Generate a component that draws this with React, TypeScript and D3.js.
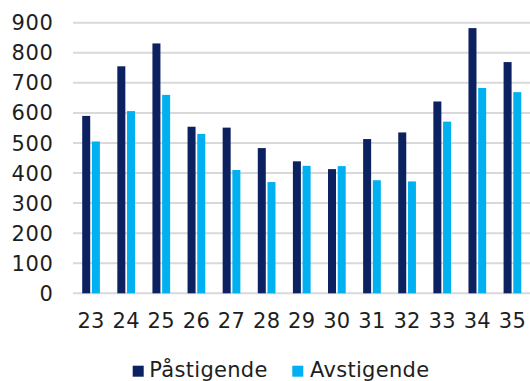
import React from "react";
import * as d3 from "d3";

const categories = ["23", "24", "25", "26", "27", "28", "29", "30", "31", "32", "33", "34", "35"];
const pastigende = [590, 755, 831, 554, 551, 483, 439, 413, 513, 535, 638, 882, 769];
const avstigende = [505, 606, 660, 530, 410, 370, 424, 423, 376, 372, 571, 683, 669];
const yTicks = [0, 100, 200, 300, 400, 500, 600, 700, 800, 900];
const seriesNames = ["Påstigende", "Avstigende"];

const W = 530;
const H = 381;
const DARK = "#0b2160";
const LIGHT = "#00b0f0";
const TEXT = "#1e1e1e";
const FONT = "'DejaVu Sans', sans-serif";

export default function App() {
  const x = d3.scaleBand<string>().domain(categories).range([73.5, 530]).paddingInner(0).paddingOuter(0);
  const y = d3.scaleLinear().domain([0, 900]).range([293.3, 22.7]);
  const barW = 8;
  const gap = 1.7;
  const groupW = barW * 2 + gap;
  const off = (x.bandwidth() - groupW) / 2;

  return (
    <svg width={W} height={H} style={{ position: "absolute", left: 0, top: 0, background: "#fff" }}>
      {yTicks.map((t) => (
        <g key={t}>
          <line x1={73} x2={530} y1={y(t)} y2={y(t)} stroke="#d9d9d9" strokeWidth={2} />
          <text x={53.5} y={y(t)} dy="0.36em" textAnchor="end" fontFamily={FONT} fontSize={21} letterSpacing={0.6} fill={TEXT}>
            {t}
          </text>
        </g>
      ))}
      {categories.map((c, i) => {
        const x0 = (x(c) as number) + off;
        return (
          <g key={c}>
            <rect x={x0} y={y(pastigende[i])} width={barW} height={y(0) - y(pastigende[i])} fill={DARK} />
            <rect x={x0 + barW + gap} y={y(avstigende[i])} width={barW} height={y(0) - y(avstigende[i])} fill={LIGHT} />
            <text x={(x(c) as number) + x.bandwidth() / 2} y={327.5} textAnchor="middle" fontFamily={FONT} fontSize={21} letterSpacing={0.3} fill={TEXT}>
              {c}
            </text>
          </g>
        );
      })}
      <g>
        <rect x={132.7} y={365.7} width={11} height={11} fill={DARK} />
        <text x={149.3} y={377} fontFamily={FONT} fontSize={21} letterSpacing={0.3} fill={TEXT}>{seriesNames[0]}</text>
        <rect x={292.3} y={365.7} width={11} height={11} fill={LIGHT} />
        <text x={310} y={377} fontFamily={FONT} fontSize={21} letterSpacing={0.3} fill={TEXT}>{seriesNames[1]}</text>
      </g>
    </svg>
  );
}
